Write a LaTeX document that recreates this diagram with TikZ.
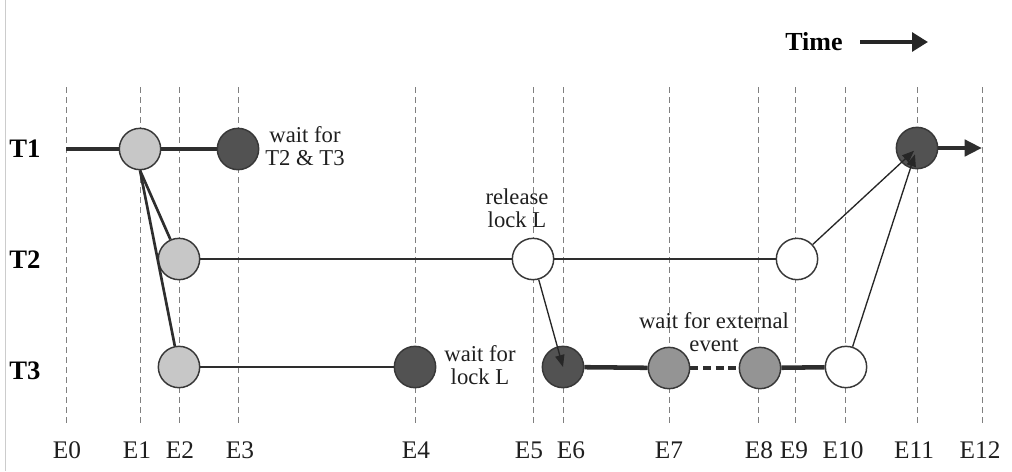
\documentclass[tikz,border=0pt]{standalone}
\usepackage{fontspec}
\setmainfont{Liberation Serif}
\usetikzlibrary{arrows.meta}
\begin{document}
\begin{tikzpicture}[x=0.75pt,y=-0.75pt,
  ev/.style={circle,draw=black!78,line width=1.1pt,minimum size=31pt,inner sep=0pt},
  light/.style={ev,fill=black!22},
  dark/.style={ev,fill=black!68},
  mid/.style={ev,fill=black!42},
  open/.style={ev,fill=white},
  grid/.style={draw=black!50,line width=0.6pt,dash pattern=on 4.5pt off 3pt},
  elabel/.style={font=\fontsize{19}{22}\selectfont,text=black!88,inner sep=0pt},
  note/.style={font=\fontsize{17}{17.5}\selectfont,align=center,text=black!88,inner sep=0pt},
  tlabel/.style={font=\fontsize{20}{22}\selectfont\bfseries,inner sep=0pt},
  thinline/.style={line width=2pt,draw=black!82},
  thickline/.style={line width=3.4pt,draw=black!82},
  msg/.style={line width=1pt,draw=black!85,-{Triangle[length=9pt,width=7pt]}},
]
\useasboundingbox (0,0) rectangle (1012,471);
\draw[black!20,line width=0.75pt] (5,0) -- (5,471);

% event grid: line position / label position
\foreach \n/\x/\lx in {0/66/67,1/140/137,2/179/180,3/238/240,4/415/416,5/533/529,6/563/571,7/669/669,8/758/759,9/795/794,10/845/843,11/917/914,12/982/980} {
  \coordinate (g\n) at (\x,87);
  \coordinate (h\n) at (\x,427);
  \node[elabel] (e\n) at (\lx,450) {E\n};
  \draw[grid] (g\n) -- (h\n);
}

% thread labels
\node[tlabel] (T1) at (25,149) {T1};
\node[tlabel] (T2) at (25,260) {T2};
\node[tlabel] (T3) at (25,371) {T3};

% events
\node[light] (a1) at (140,149) {};
\node[dark] (a3) at (238,149) {};
\node[dark] (a11) at (917,148) {};
\node[light] (b2) at (179,259) {};
\node[open] (b5) at (533,259) {};
\node[open] (b9) at (797,259) {};
\node[light] (c2) at (179,367) {};
\node[dark] (c4) at (415,367) {};
\node[dark] (c6) at (563,367) {};
\node[mid] (c7) at (669,368) {};
\node[mid] (c8) at (760,368) {};
\node[open] (c10) at (846,367) {};

% thread timelines
\coordinate (t1start) at (66,149);
\coordinate (t1end) at (982,148);
\draw[thickline] (t1start) -- (a1) -- (a3);
\draw[thinline] (b2) -- (b5) -- (b9);
\draw[thinline] (c2) -- (c4);
\draw[thickline] (c6) -- (c7);
\draw[thickline,dash pattern=on 6pt off 3.5pt] (c7) -- (c8);
\draw[thickline] (c8) -- (c10);
\draw[thickline,-{Triangle[length=13pt,width=12pt]}] (a11) -- (t1end);

% fork
\draw[thinline] (a1.south) -- (b2);
\draw[thinline] (a1.south) -- (c2);

% synchronisation
\draw[msg] (b5) -- (c6.center);
\draw[msg,shorten >=3pt] (b9) -- (a11.center);
\draw[msg,shorten >=5pt] (c10) -- (a11.center);

% annotations
\node[note] (n1) at (305,146) {wait for\\T2 \& T3};
\node[note] (n2) at (517,208) {release\\lock L};
\node[note] (n3) at (480,365) {wait for\\lock L};
\node[note] (n4) at (714,332) {wait for external\\event};

% time direction
\node[font=\fontsize{19.5}{22}\selectfont\bfseries,inner sep=0pt] (time) at (814,42) {Time};
\coordinate (timeend) at (928,42);
\draw[line width=3.6pt,draw=black!85,-{Triangle[length=12pt,width=14pt]}] ([xshift=13pt]time.east) -- (timeend);
\end{tikzpicture}
\end{document}
